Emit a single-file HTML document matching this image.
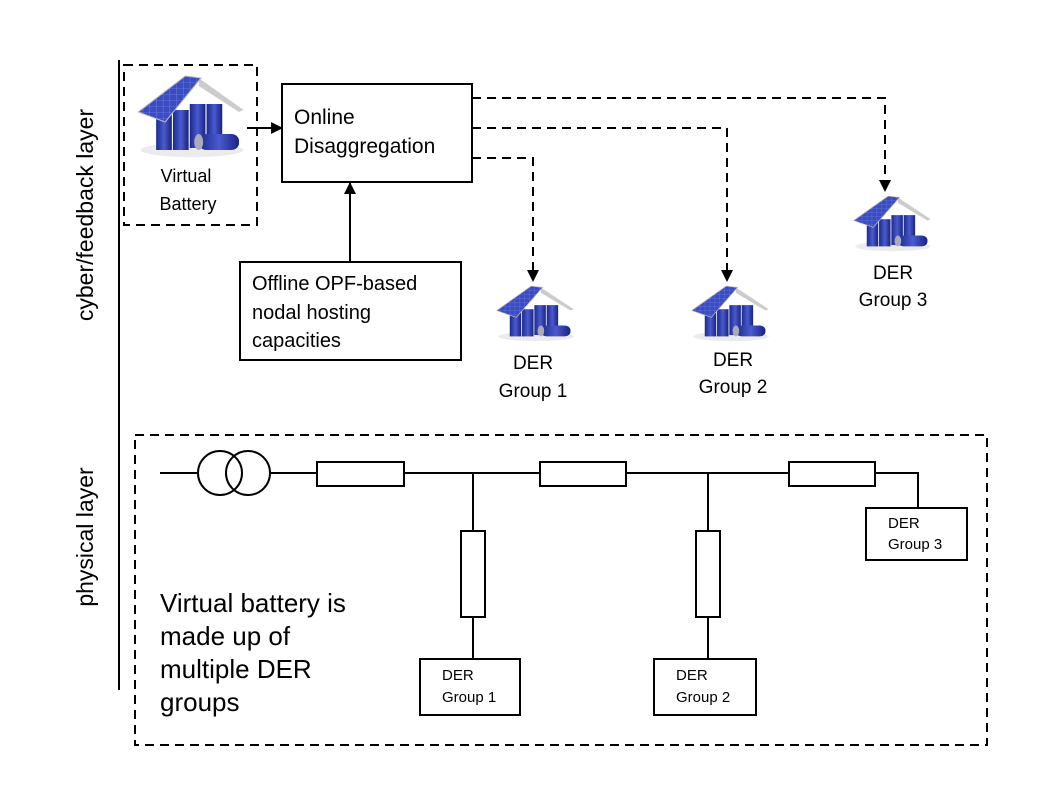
<!DOCTYPE html>
<html><head><meta charset="utf-8"><style>
body{margin:0;background:#fff;}
svg{display:block;}
text{font-family:"Liberation Sans",sans-serif;fill:#000;}
</style></head><body>
<svg width="1040" height="801" viewBox="0 0 1040 801" xmlns="http://www.w3.org/2000/svg">
<defs>
<marker id="ah" markerWidth="12" markerHeight="12" refX="11" refY="6" orient="auto" markerUnits="userSpaceOnUse">
<path d="M0,0 L12,6 L0,12 z" fill="#000"/></marker>
<linearGradient id="cyl" x1="0" x2="1"><stop offset="0" stop-color="#1a2a8a"/><stop offset="0.5" stop-color="#4a5ad0"/><stop offset="1" stop-color="#1a2380"/></linearGradient>
<pattern id="grid" width="6" height="6" patternUnits="userSpaceOnUse"><rect width="6" height="6" fill="#3a4cc4"/><path d="M0,0H6M0,0V6" stroke="#8894e0" stroke-width="0.6"/></pattern>
<g id="house">
<ellipse cx="50" cy="80" rx="46" ry="7" fill="#ddd" opacity="0.6"/>
<rect x="18" y="42" width="14" height="38" fill="url(#cyl)"/>
<rect x="33" y="40" width="14" height="40" fill="url(#cyl)"/>
<rect x="48" y="34" width="14" height="44" fill="url(#cyl)"/>
<rect x="63" y="34" width="14" height="40" fill="url(#cyl)"/>
<path d="M56,8 L96,40 L92,42 L56,16 Z" fill="#ccc"/>
<path d="M2,42 L44,6 L58,8 L26,52 Z" fill="url(#grid)" stroke="#bbb" stroke-width="1"/>
<rect x="56" y="64" width="36" height="16" rx="7" fill="url(#cyl)"/>
<ellipse cx="56" cy="72" rx="4" ry="8" fill="#aab"/>
</g>
</defs>

<line x1="119" y1="60" x2="119" y2="690" stroke="#000" stroke-width="2"/>
<text transform="translate(93,215) rotate(-90)" font-size="23" text-anchor="middle">cyber/feedback layer</text>
<text transform="translate(93,537) rotate(-90)" font-size="23" text-anchor="middle">physical layer</text>

<rect x="124" y="65" width="133" height="160" fill="none" stroke="#000" stroke-width="2" stroke-dasharray="9,6"/>
<use href="#house" transform="translate(136,70) scale(1.12,1.0)"/>
<text x="186" y="182" font-size="18" text-anchor="middle" fill="#222">Virtual</text>
<text x="188" y="210" font-size="18" text-anchor="middle" fill="#222">Battery</text>
<line x1="247" y1="128" x2="282" y2="128" stroke="#000" stroke-width="2" marker-end="url(#ah)"/>

<rect x="282" y="84" width="190" height="98" fill="#fff" stroke="#000" stroke-width="2"/>
<text x="294" y="124" font-size="21">Online</text>
<text x="294" y="153" font-size="21">Disaggregation</text>

<line x1="350" y1="262" x2="350" y2="183" stroke="#000" stroke-width="2" marker-end="url(#ah)"/>
<rect x="240" y="262" width="221" height="98" fill="#fff" stroke="#000" stroke-width="2"/>
<text x="252" y="290" font-size="20">Offline OPF-based</text>
<text x="252" y="319" font-size="20">nodal hosting</text>
<text x="252" y="347" font-size="20">capacities</text>

<g fill="none" stroke="#000" stroke-width="2" stroke-dasharray="9,6">
<path d="M472,98 H885 V190"/>
<path d="M472,128 H727 V280"/>
<path d="M472,158 H533 V280"/>
</g>
<path d="M879,180 L885,192 L891,180 z"/>
<path d="M721,270 L727,282 L733,270 z"/>
<path d="M527,270 L533,282 L539,270 z"/>

<use href="#house" transform="translate(852,192) scale(0.82,0.68)"/>
<use href="#house" transform="translate(495,282) scale(0.82,0.68)"/>
<use href="#house" transform="translate(690,282) scale(0.82,0.68)"/>
<text x="893" y="279" font-size="19" text-anchor="middle" fill="#222">DER</text>
<text x="893" y="306" font-size="19" text-anchor="middle" fill="#222">Group 3</text>
<text x="533" y="369" font-size="19" text-anchor="middle" fill="#222">DER</text>
<text x="533" y="397" font-size="19" text-anchor="middle" fill="#222">Group 1</text>
<text x="733" y="366" font-size="19" text-anchor="middle" fill="#222">DER</text>
<text x="733" y="393" font-size="19" text-anchor="middle" fill="#222">Group 2</text>

<rect x="135" y="435" width="852" height="310" fill="none" stroke="#000" stroke-width="2" stroke-dasharray="9,6"/>
<g fill="none" stroke="#000" stroke-width="2">
<line x1="160" y1="473" x2="198" y2="473"/>
<circle cx="220" cy="473" r="22"/>
<circle cx="248" cy="473" r="22"/>
<line x1="270" y1="473" x2="317" y2="473"/>
<rect x="317" y="462" width="87" height="24"/>
<line x1="404" y1="473" x2="540" y2="473"/>
<rect x="540" y="462" width="86" height="24"/>
<line x1="626" y1="473" x2="789" y2="473"/>
<rect x="789" y="462" width="86" height="24"/>
<path d="M875,473 H918 V508"/>
<rect x="866" y="508" width="101" height="52"/>
<line x1="473" y1="473" x2="473" y2="531"/>
<rect x="461" y="531" width="24" height="86"/>
<line x1="473" y1="617" x2="473" y2="659"/>
<rect x="420" y="659" width="100" height="56"/>
<line x1="708" y1="473" x2="708" y2="531"/>
<rect x="696" y="531" width="24" height="86"/>
<line x1="708" y1="617" x2="708" y2="659"/>
<rect x="654" y="659" width="102" height="56"/>
</g>
<text x="888" y="528" font-size="15" fill="#222">DER</text>
<text x="888" y="549" font-size="15" fill="#222">Group 3</text>
<text x="442" y="680" font-size="15" fill="#222">DER</text>
<text x="442" y="702" font-size="15" fill="#222">Group 1</text>
<text x="676" y="680" font-size="15" fill="#222">DER</text>
<text x="676" y="702" font-size="15" fill="#222">Group 2</text>

<text x="160" y="612" font-size="26">Virtual battery is</text>
<text x="160" y="645" font-size="26">made up of</text>
<text x="160" y="678" font-size="26">multiple DER</text>
<text x="160" y="711" font-size="26">groups</text>
</svg>
</body></html>
